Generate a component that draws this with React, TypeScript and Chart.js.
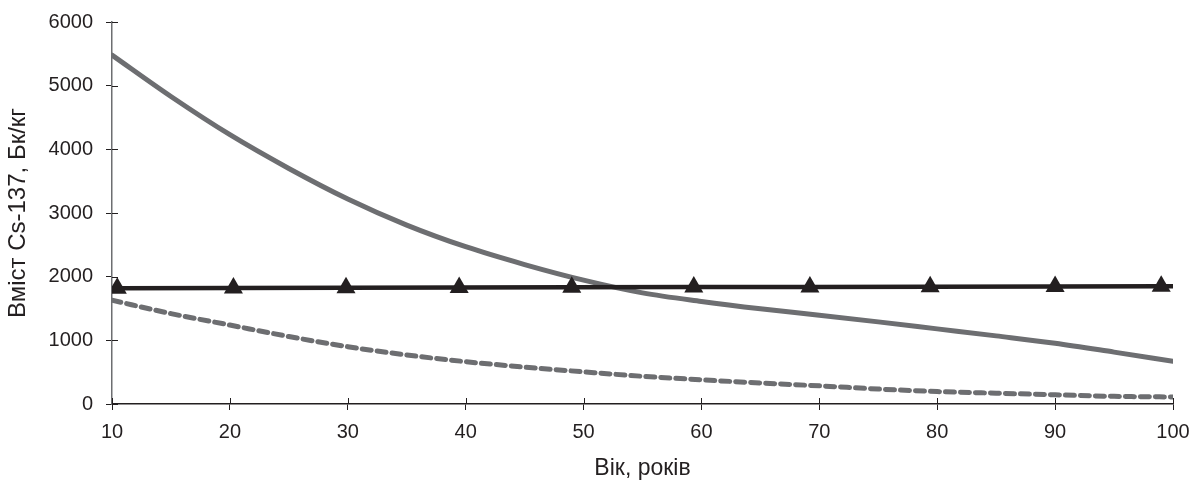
import { useEffect, useRef } from 'react';
import { Chart, registerables } from 'chart.js';

Chart.register(...registerables);

// Age (years) for the smooth curves
const ages = [10, 15, 20, 25, 30, 35, 40, 45, 50, 55, 60, 65, 70, 75, 80, 85, 90, 95, 100];
// Solid grey curve, Bq/kg
const solidGreyValues = [5480, 4830, 4230, 3700, 3220, 2810, 2470, 2190, 1945, 1745, 1610, 1495, 1395, 1290, 1180, 1070, 955, 815, 670];
// Dashed grey curve, Bq/kg
const dashedGreyValues = [1630, 1420, 1240, 1060, 900, 770, 665, 580, 505, 435, 380, 330, 285, 235, 195, 170, 145, 120, 110];
// Black line with triangle markers
const markerAges = [10, 10.45, 20.3, 29.85, 39.45, 49.0, 59.35, 69.2, 79.4, 90.0, 99.0, 100];
const blackValues = [1820, 1820, 1823, 1826, 1829, 1832, 1836, 1839, 1842, 1846, 1849, 1850];
const markerShown = [false, true, true, true, true, true, true, true, true, true, true, false];

const xMin = 10;
const xMax = 100;
const xStep = 10;
const yMin = 0;
const yMax = 6000;
const yStep = 1000;

const xTitle = 'Вік, років';
const yTitle = 'Вміст Cs-137, Бк/кг';

const GREY = '#6d6e71';
const BLACK = '#231f20';
const FONT = "'Liberation Sans', Arial, Helvetica, sans-serif";

const innerTicks = {
  id: 'innerTicks',
  beforeDatasetsDraw(chart: any) {
    const { ctx, chartArea, scales } = chart;
    ctx.save();
    ctx.lineWidth = 1;
    const x = scales.x;
    ctx.strokeStyle = BLACK;
    x.ticks.forEach((t: any) => {
      const px = Math.round(x.getPixelForValue(t.value)) + 0.5;
      ctx.beginPath();
      ctx.moveTo(px, chartArea.bottom);
      ctx.lineTo(px, chartArea.bottom - 6);
      ctx.stroke();
    });
    const y = scales.y;
    y.ticks.forEach((t: any) => {
      const py = Math.round(y.getPixelForValue(t.value)) + 0.5;
      ctx.beginPath();
      ctx.moveTo(chartArea.left, py);
      ctx.lineTo(chartArea.left + 6, py);
      ctx.stroke();
    });
    ctx.restore();
  },
};

export default function App() {
  const canvasRef = useRef<HTMLCanvasElement | null>(null);

  useEffect(() => {
    document.body.style.margin = '0';
    const canvas = canvasRef.current;
    if (!canvas) return;

    const chart = new Chart(canvas, {
      type: 'line',
      data: {
        datasets: [
          {
            label: 'black',
            data: markerAges.map((a, i) => ({ x: a, y: blackValues[i] })),
            borderColor: BLACK,
            borderWidth: 4.5,
            pointStyle: 'triangle',
            pointRadius: markerShown.map((s) => (s ? 11 : 0)),
            pointBackgroundColor: BLACK,
            pointBorderColor: BLACK,
            pointBorderWidth: 0,
            tension: 0,
            fill: false,
          },
          {
            label: 'solid',
            data: ages.map((a, i) => ({ x: a, y: solidGreyValues[i] })),
            borderColor: GREY,
            borderWidth: 5,
            pointRadius: 0,
            cubicInterpolationMode: 'monotone',
            borderCapStyle: 'round',
            fill: false,
          },
          {
            label: 'dashed',
            data: ages.map((a, i) => ({ x: a, y: dashedGreyValues[i] })),
            borderColor: GREY,
            borderWidth: 5,
            borderDash: [9, 6],
            borderCapStyle: 'round',
            pointRadius: 0,
            cubicInterpolationMode: 'monotone',
            fill: false,
          },
        ],
      },
      options: {
        animation: false,
        responsive: false,
        maintainAspectRatio: false,
        layout: { padding: { top: 22, right: 18, left: 0, bottom: 0 } },
        plugins: {
          legend: { display: false },
          tooltip: { enabled: false },
        },
        scales: {
          x: {
            type: 'linear',
            min: xMin,
            max: xMax,
            ticks: {
              stepSize: xStep,
              color: BLACK,
              font: { family: FONT, size: 20 },
              padding: 10,
              maxRotation: 0,
              callback: (v: any) => String(v),
            },
            grid: {
              display: true,
              drawOnChartArea: false,
              drawTicks: true,
              tickLength: 6,
              color: BLACK,
            },
            border: { display: true, color: BLACK, width: 1.5 },
            title: {
              display: true,
              text: xTitle,
              color: BLACK,
              font: { family: FONT, size: 23, lineHeight: 1 },
              padding: { top: 1, bottom: 1 },
            },
            afterFit(scale: any) {
              scale.height = 77;
              scale.paddingRight = 0;
              scale.paddingLeft = 0;
            },
          },
          y: {
            type: 'linear',
            min: yMin,
            max: yMax,
            ticks: {
              stepSize: yStep,
              color: BLACK,
              font: { family: FONT, size: 20 },
              padding: 13,
              callback: (v: any) => String(v),
            },
            grid: {
              display: true,
              drawOnChartArea: false,
              drawTicks: true,
              tickLength: 6,
              color: BLACK,
            },
            border: { display: true, color: GREY, width: 1.5 },
            title: {
              display: true,
              text: yTitle,
              color: BLACK,
              font: { family: FONT, size: 24, lineHeight: 1 },
              padding: { top: 6, bottom: 0 },
            },
            afterFit(scale: any) {
              scale.width = 112;
              scale.paddingTop = 0;
              scale.paddingBottom = 0;
            },
          },
        },
      },
      plugins: [innerTicks],
    } as any);

    return () => chart.destroy();
  }, []);

  return (
    <div style={{ width: 1191, height: 481, background: '#fff' }}>
      <canvas ref={canvasRef} width={1191} height={481} style={{ display: 'block' }} />
    </div>
  );
}
